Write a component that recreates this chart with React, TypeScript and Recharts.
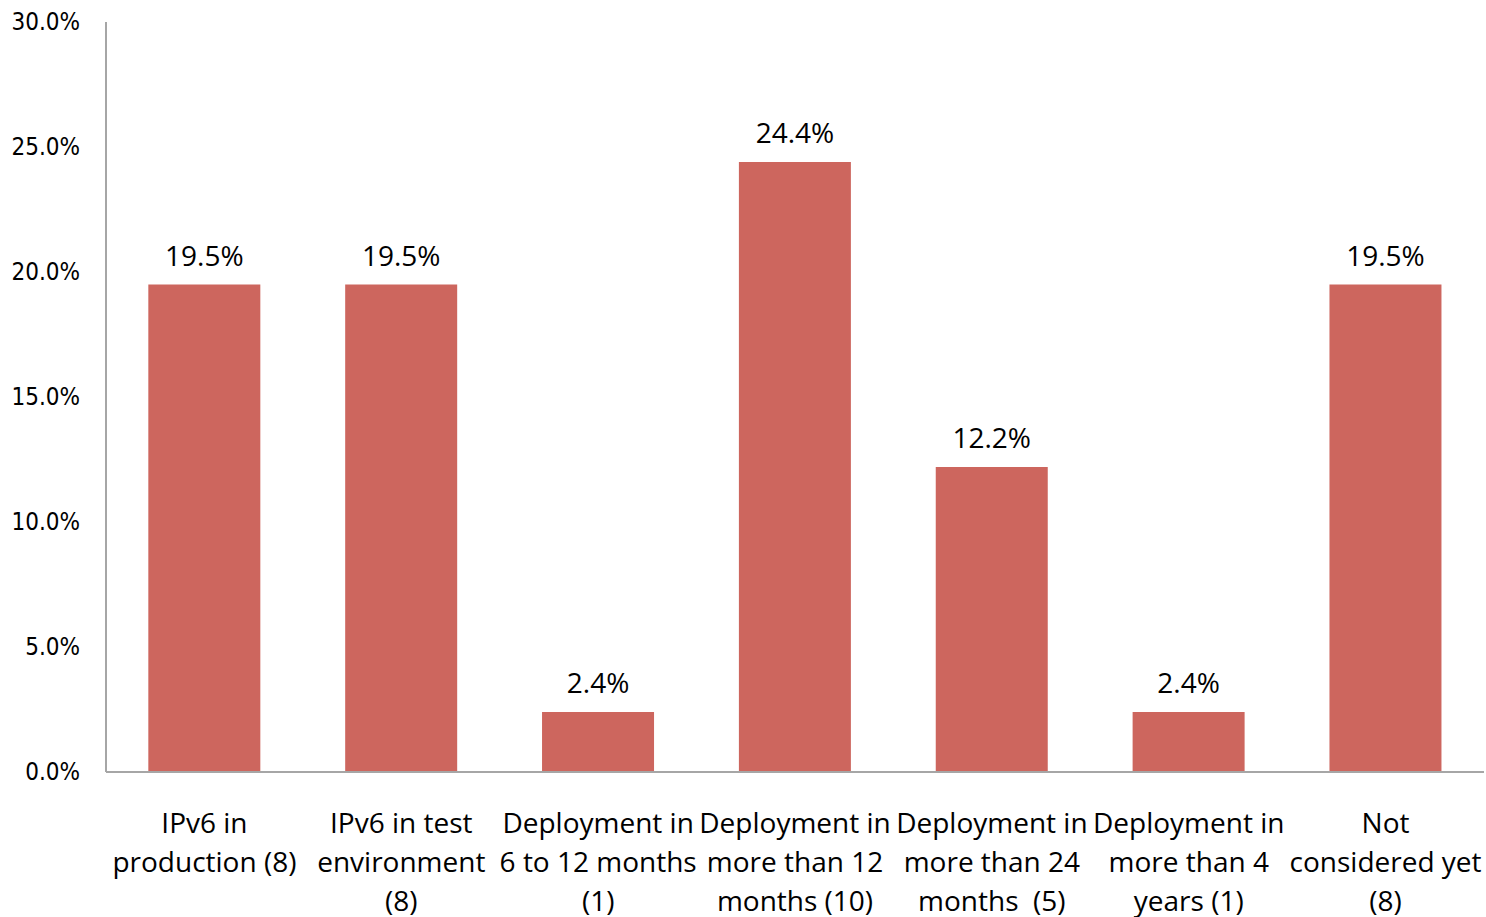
import { BarChart, Bar, XAxis, YAxis, LabelList } from 'recharts';

const categories = [
  'IPv6 in production (8)',
  'IPv6 in test environment (8)',
  'Deployment in 6 to 12 months (1)',
  'Deployment in more than 12 months (10)',
  'Deployment in more than 24 months (5)',
  'Deployment in more than 4 years (1)',
  'Not considered yet (8)',
];

const categoryLines = [
  ['IPv6 in', 'production (8)'],
  ['IPv6 in test', 'environment', '(8)'],
  ['Deployment in', '6 to 12 months', '(1)'],
  ['Deployment in', 'more than 12', 'months (10)'],
  ['Deployment in', 'more than 24', 'months  (5)'],
  ['Deployment in', 'more than 4', 'years (1)'],
  ['Not', 'considered yet', '(8)'],
];

const shares = [19.5, 19.5, 2.4, 24.4, 12.2, 2.4, 19.5];

const yTicks = [0, 5, 10, 15, 20, 25, 30];

const data = categories.map((name, i) => ({ name, value: shares[i], index: i }));

const FONT = '"Open Sans", Lato, sans-serif';
const TICK_FONT = '"Liberation Sans Narrow", "DejaVu Sans Condensed", "Open Sans", sans-serif';

const CategoryTick = (props: any) => {
  const { x, y, index } = props;
  const lines = categoryLines[index] || [];
  return (
    <g transform={`translate(${x},${y})`}>
      <text textAnchor="middle" fill="#000" fontSize={28} fontFamily={FONT}>
        {lines.map((line, i) => (
          <tspan key={i} x={0} dy={i === 0 ? 61 : 39} style={{ whiteSpace: 'pre' }}>
            {line}
          </tspan>
        ))}
      </text>
    </g>
  );
};

const ValueTick = (props: any) => {
  const { x, y, payload } = props;
  return (
    <text x={x} y={y} dy={8} textAnchor="end" fill="#000" fontSize={24} fontFamily={TICK_FONT}>
      {`${Number(payload.value).toFixed(1)}%`}
    </text>
  );
};

const App = () => {
  return (
    <div style={{ position: 'absolute', left: 0, top: 0, background: '#fff' }}>
      <BarChart
        width={1486}
        height={917}
        data={data}
        margin={{ top: 22, right: 2, left: 0, bottom: 0 }}
        barCategoryGap="21.5%"
      >
        <XAxis
          dataKey="name"
          interval={0}
          height={145}
          tickLine={false}
          tickSize={0}
          tickMargin={0}
          axisLine={{ stroke: '#A6A6A6', strokeWidth: 2 }}
          tick={<CategoryTick />}
        />
        <YAxis
          width={106}
          domain={[0, 30]}
          ticks={yTicks}
          interval={0}
          tickLine={false}
          tickSize={0}
          tickMargin={26}
          axisLine={{ stroke: '#A6A6A6', strokeWidth: 2 }}
          tick={<ValueTick />}
        />
        <Bar dataKey="value" fill="#CD665E" isAnimationActive={false}>
          <LabelList
            dataKey="value"
            position="top"
            offset={19}
            formatter={(v: number) => `${v.toFixed(1)}%`}
            style={{ fill: '#000', fontSize: 28, fontFamily: FONT }}
          />
        </Bar>
      </BarChart>
    </div>
  );
};

export default App;
